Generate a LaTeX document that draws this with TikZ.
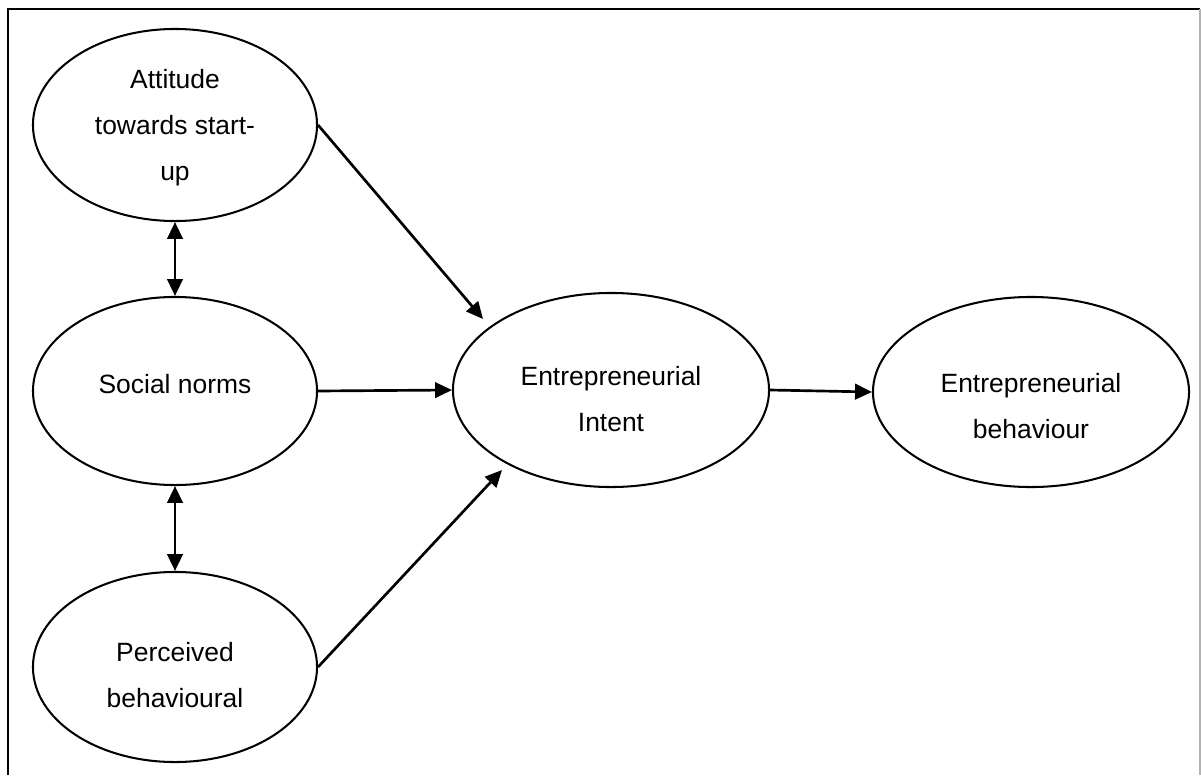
\documentclass[tikz,border=0pt]{standalone}
\usepackage{fontspec}
\setmainfont{Liberation Sans}
\usetikzlibrary{shapes.geometric,arrows.meta}

\begin{document}
\begin{tikzpicture}[x=0.025cm, y=-0.025cm]
	\tikzstyle{oval} = [ draw, ellipse, line width=1.45pt, inner sep=0pt, minimum width=7.1cm, minimum height=4.8cm ];
	\tikzstyle{wideoval} = [ oval, minimum width=7.9cm ];
	\tikzstyle{txt} = [ align=center, inner sep=0pt, font={\fontsize{18.8}{32.7}\selectfont} ];
	\tikzstyle{link} = [ -{Triangle[length=12pt, width=11pt]}, line width=1.9pt ];
	\tikzstyle{both} = [ {Triangle[length=12pt, width=11pt]}-{Triangle[length=12pt, width=11pt]}, line width=1.9pt ];

	\useasboundingbox (0,0) rectangle (1201,775);

	% frame, open at the bottom
	\draw[line width=1.3pt] (8,775) -- (8,9) -- (1200,9);
	\draw[gray!60, line width=0.8pt] (1200,9) -- (1200,775);

	% ovals
	\node[oval] (att) at (175,125) {};
	\node[oval, minimum height=4.7cm] (soc) at (175,391) {};
	\node[oval, minimum height=4.75cm] (per) at (175,667) {};
	\node[wideoval, minimum height=4.85cm] (int) at (611,390) {};
	\node[wideoval, minimum height=4.75cm] (beh) at (1031,392) {};

	% texts
	\node[txt] (att-t) at (175,128) {Attitude\\towards start-\\up};
	\node[txt] (soc-t) at (175,384) {Social norms};
	\node[txt] (per-t) at (175,675) {Perceived\\behavioural};
	\node[txt] (int-t) at (611,399) {Entrepreneurial\\Intent};
	\node[txt] (beh-t) at (1031,406) {Entrepreneurial\\behaviour};

	% free ends of the slanted arrows
	\coordinate (int-in1) at (483,319);
	\coordinate (int-in3) at (502,470);

	\draw[both] (att) -- (soc);
	\draw[both] (soc) -- (per);

	\draw[link] (att.east) -- (int-in1);
	\draw[link] (soc.east) -- (int.west);
	\draw[link] (per.east) -- (int-in3);
	\draw[link] (int.east) -- (beh.west);
\end{tikzpicture}
\end{document}
